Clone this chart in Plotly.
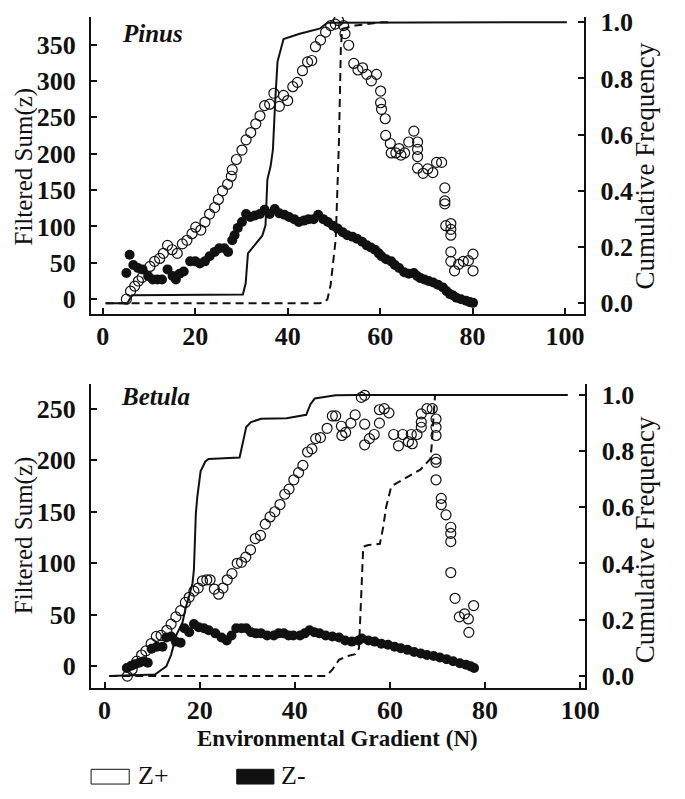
import plotly.graph_objects as go

# ---- Pinus (top panel) ----
pinus_pos_x = [5.1, 6.0, 6.9, 7.7, 8.5, 10.2, 11.2, 12.3, 13.1, 14.0, 15.0, 16.1, 17.2, 18.2, 19.3,
               20.1, 21.2, 22.1, 23.1, 24.2, 25.0, 25.9, 27.0, 27.8, 28.0, 28.9, 30.1, 31.0, 32.0,
               33.1, 34.0, 35.0, 36.1, 37.0, 38.2, 39.1, 40.0, 41.1, 42.1, 43.2, 44.3, 45.2, 46.0,
               47.1, 48.2, 49.3, 50.3, 51.0, 52.1, 52.4, 53.2, 54.3, 55.2, 56.2, 57.1, 58.1, 59.2,
               60.1, 60.1, 60.3, 61.1, 61.2, 62.2, 62.4, 63.4, 64.1, 64.5, 65.3, 66.2, 67.3, 68.1,
               68.1, 68.1, 68.1, 69.3, 70.3, 71.4, 72.2, 73.3, 74.0, 74.0, 74.0, 74.2, 75.3, 75.3,
               75.3, 75.3, 75.3, 76.1, 77.0, 78.0, 79.1, 80.1, 80.1]
pinus_pos_y = [0, 11, 18, 25, 30, 45, 52, 56, 63, 74, 68, 63, 76, 81, 90,
               99, 95, 106, 117, 126, 137, 149, 158, 169, 178, 192, 205, 219, 229,
               241, 252, 266, 268, 283, 265, 280, 273, 292, 298, 314, 326, 328, 347,
               356, 367, 376, 378, 383, 376, 365, 349, 324, 315, 318, 309, 300, 309,
               286, 270, 261, 248, 225, 214, 201, 201, 207, 198, 201, 216, 231, 216,
               206, 196, 180, 173, 179, 174, 188, 188, 153, 135, 131, 101, 104, 96,
               88, 65, 52, 39, 48, 52, 53, 62, 39]

pinus_neg_x = [5.1, 5.8, 6.6, 7.6, 8.6, 9.8, 10.8, 11.8, 12.8, 14.0, 15.1, 15.8, 16.6, 17.5, 18.9,
               20.0, 21.0, 22.1, 23.1, 24.2, 25.2, 26.3, 27.1, 28.0, 28.5, 29.2, 30.1, 31.0, 31.9,
               32.9, 34.0, 35.0, 36.1, 37.2, 38.2, 39.3, 40.3, 41.4, 42.4, 43.5, 44.5, 45.6, 46.6,
               47.7, 48.7, 49.8, 50.8, 51.9, 52.9, 54.0, 55.0, 56.1, 57.1, 58.0, 58.9, 59.7, 60.3,
               61.3, 62.4, 63.2, 64.1, 65.2, 66.2, 67.3, 68.0, 68.7, 69.6, 70.5, 71.5, 72.5, 73.6,
               74.4, 75.1, 75.8, 76.5, 77.5, 78.6, 79.4, 80.1]
pinus_neg_y = [36, 61, 47, 43, 41, 32, 27, 27, 27, 41, 32, 27, 35, 38, 52,
               52, 49, 52, 59, 65, 70, 70, 65, 81, 88, 98, 106, 117, 113,
               115, 117, 123, 117, 124, 118, 116, 113, 110, 106, 108, 110, 110, 116,
               110, 106, 101, 97, 92, 88, 86, 83, 79, 74, 71, 68, 63, 59,
               55, 52, 47, 43, 37, 35, 36, 32, 29, 27, 25, 23, 20, 16,
               11, 7, 5, 2, 0, -2, -4, -5]

pinus_cum_solid_x = [0.6, 5.3, 6.3, 30.3, 30.9, 31.4, 32.8, 34.5, 35.2, 35.6, 36.3, 36.8, 37.3,
                     37.8, 39.1, 42.6, 46.9, 48.6, 100.4]
pinus_cum_solid_y = [0.0, 0.0, 0.028, 0.031, 0.07, 0.177, 0.206, 0.24, 0.277, 0.44, 0.487, 0.546,
                     0.72, 0.86, 0.94, 0.959, 0.977, 0.998, 1.0]

pinus_cum_dash_x = [0.6, 46.9, 48.0, 48.6, 49.3, 50.4, 51.1, 51.5, 51.8, 54.6, 60.3, 62.0]
pinus_cum_dash_y = [0.0, 0.0, 0.004, 0.014, 0.066, 0.23, 0.58, 0.91, 0.977, 0.988, 1.0, 1.0]

# ---- Betula (bottom panel) ----
betula_pos_x = [4.8, 5.8, 6.8, 7.8, 8.7, 9.8, 10.9, 11.9, 13.1, 14.0, 15.0, 16.0, 17.0, 17.8, 18.8,
                19.7, 20.6, 21.5, 22.2, 23.1, 24.0, 24.9, 25.8, 26.8, 27.9, 28.8, 29.7, 30.7, 31.7,
                32.8, 33.8, 34.8, 35.8, 36.9, 37.9, 38.8, 39.8, 40.8, 41.7, 42.7, 43.6, 44.4, 45.4,
                46.8, 47.9, 48.6, 49.8, 49.9, 50.7, 51.8, 52.7, 54.0, 54.7, 54.7, 54.7, 55.7, 56.7,
                57.8, 57.8, 58.8, 59.8, 60.8, 61.8, 62.7, 63.9, 64.5, 64.7, 65.7, 66.6, 66.6, 66.6,
                67.8, 68.9, 69.7, 69.7, 69.7, 69.7, 69.7, 69.7, 70.8, 70.8, 71.8, 72.8, 72.8, 72.8,
                72.8, 73.7, 74.6, 75.7, 76.5, 77.6, 76.6]
betula_pos_y = [-9.5, -3, 5, 11, 15, 22, 29, 30, 35, 41, 48, 54, 62, 67, 73,
                76, 83, 84, 84, 75, 70, 76, 84, 90, 100, 101, 106, 113, 124,
                127, 138, 145, 150, 157, 167, 172, 181, 188, 195, 208, 211, 221, 222,
                231, 243, 243, 233, 224, 227, 236, 244, 261, 263, 235, 215, 221, 225,
                236, 249, 250, 246, 225, 214, 225, 218, 225, 216, 225, 232, 237, 245,
                250, 250, 240, 232, 224, 201, 198, 181, 163, 157, 147, 135, 129, 121,
                91, 66, 48, 51, 46, 59, 33]

betula_neg_x = [4.7, 5.6, 6.4, 7.3, 8.3, 9.1, 9.9, 11.0, 12.2, 13.0, 14.0, 15.0, 16.0, 16.8, 17.8,
                18.8, 19.8, 20.9, 21.9, 23.3, 24.6, 25.7, 26.7, 27.7, 28.8, 29.8, 30.8, 31.8, 32.9,
                34.2, 35.6, 36.6, 37.7, 38.7, 39.7, 41.1, 42.1, 43.1, 44.1, 45.2, 46.5, 47.9, 49.3,
                50.6, 52.0, 53.4, 54.1, 55.5, 56.8, 58.2, 59.6, 61.0, 62.3, 63.7, 65.1, 66.5, 67.8,
                69.2, 70.5, 71.9, 73.3, 74.7, 76.0, 77.0, 77.7]
betula_neg_y = [-1.6, 0.6, 2, 3.5, 5, 3.5, 17, 19, 19, 28, 29, 24, 23, 37, 33,
                41, 38, 37, 35, 32, 28, 25, 30, 37, 37, 37, 33, 32, 32,
                30, 30, 32, 32, 30, 30, 30, 32, 35, 33, 32, 30, 29, 28,
                25, 24, 25, 27, 25, 24, 22, 21, 19, 17.5, 16, 14, 12.5, 11,
                10, 8.6, 7, 5, 3, 1.5, 0, -1.6]

betula_cum_solid_x = [1.0, 10.6, 12.0, 13.0, 14.0, 15.1, 16.4, 17.1, 17.8, 18.5, 18.8, 19.2, 19.5,
                      20.2, 21.2, 21.9, 28.4, 29.1, 29.8, 30.8, 32.9, 38.3, 42.4, 43.3, 44.2, 48.6,
                      53.4, 97.4]
betula_cum_solid_y = [0.0, 0.005, 0.022, 0.034, 0.075, 0.145, 0.19, 0.244, 0.285, 0.33, 0.378, 0.576,
                      0.635, 0.728, 0.763, 0.772, 0.777, 0.833, 0.886, 0.903, 0.915, 0.917, 0.929,
                      0.967, 0.987, 0.999, 1.0, 1.0]

betula_cum_dash_x = [1.0, 46.6, 47.9, 49.3, 51.0, 52.7, 53.5, 53.8, 54.4, 55.5, 57.9, 58.6, 59.2,
                     60.3, 63.0, 66.4, 68.5, 68.8, 69.2, 69.5, 72.0]
betula_cum_dash_y = [0.0, 0.0, 0.022, 0.057, 0.07, 0.077, 0.098, 0.238, 0.46, 0.466, 0.47, 0.53, 0.6,
                     0.675, 0.70, 0.734, 0.772, 0.82, 0.93, 1.0, 1.0]

x_ticks = [0, 20, 40, 60, 80, 100]
cum_ticks = [0.0, 0.2, 0.4, 0.6, 0.8, 1.0]
pinus_sum_ticks = [0, 50, 100, 150, 200, 250, 300, 350]
betula_sum_ticks = [0, 50, 100, 150, 200, 250]

FONT = "Liberation Serif"
INK = "#111111"
# the page body keeps an 8px margin all round; keep the figure inside it so nothing scrolls
OFF = 8
W, H = 685 - 2 * OFF, 799 - 2 * OFF


def px_x(p):
    return (p - OFF) / W


def px_y(p):
    return 1 - (p - OFF) / H


def add_panel(fig, xa, ycum, ysum, cum_solid, cum_dash, pos, neg):
    fig.add_trace(go.Scatter(x=cum_solid[0], y=cum_solid[1], mode="lines",
                             line=dict(color=INK, width=2), xaxis=xa, yaxis=ycum))
    fig.add_trace(go.Scatter(x=cum_dash[0], y=cum_dash[1], mode="lines",
                             line=dict(color=INK, width=2, dash="8px,5px"), xaxis=xa, yaxis=ycum))
    fig.add_trace(go.Scatter(x=neg[0], y=neg[1], mode="markers",
                             marker=dict(symbol="circle", size=10, color=INK),
                             xaxis=xa, yaxis=ysum))
    fig.add_trace(go.Scatter(x=pos[0], y=pos[1], mode="markers",
                             marker=dict(symbol="circle-open", size=10, color=INK,
                                         line=dict(width=1.2)),
                             xaxis=xa, yaxis=ysum))


fig = go.Figure()
add_panel(fig, "x", "y", "y2",
          (pinus_cum_solid_x, pinus_cum_solid_y), (pinus_cum_dash_x, pinus_cum_dash_y),
          (pinus_pos_x, pinus_pos_y), (pinus_neg_x, pinus_neg_y))
add_panel(fig, "x2", "y3", "y4",
          (betula_cum_solid_x, betula_cum_solid_y), (betula_cum_dash_x, betula_cum_dash_y),
          (betula_pos_x, betula_pos_y), (betula_neg_x, betula_neg_y))

tick_font = dict(family=FONT, size=26, color=INK, weight="bold")
common = dict(showgrid=False, zeroline=False, showline=True, linecolor=INK, linewidth=1.5,
              ticks="inside", ticklen=6, tickwidth=1.5, tickcolor=INK, tickfont=tick_font,
              ticklabeloverflow="allow")

fig.update_layout(
    width=W, height=H,
    margin=dict(l=0, r=0, t=0, b=0),
    paper_bgcolor="white", plot_bgcolor="white",
    showlegend=False,
    xaxis=dict(domain=[px_x(92.7), px_x(596.7)], anchor="y", range=[-2.6, 104],
               tickvals=x_ticks, ticklabelstandoff=-2, **common),
    yaxis=dict(domain=[px_y(310), 1.0], anchor="x", side="right", range=[-0.0385, 1.0186],
               tickvals=cum_ticks, tickformat=".1f", ticklabelstandoff=10, **common),
    yaxis2=dict(overlaying="y", anchor="x", side="left", range=[-20.3, 387.8],
                tickvals=pinus_sum_ticks, ticklabelstandoff=8, **common),
    xaxis2=dict(domain=[px_x(92.7), px_x(598)], anchor="y3", range=[-2.88, 100.97],
                tickvals=x_ticks, ticklabelstandoff=-2, **common),
    yaxis3=dict(domain=[px_y(690), px_y(381.7)], anchor="x2", side="right", range=[-0.042, 1.037],
                tickvals=cum_ticks, tickformat=".1f", ticklabelstandoff=10, **common),
    yaxis4=dict(overlaying="y3", anchor="x2", side="left", range=[-20.7, 273.5],
                tickvals=betula_sum_ticks, ticklabelstandoff=8, **common),
)

annots = [
    dict(text="<b><i>Pinus</i></b>", x=px_x(123), y=px_y(25), xanchor="left", size=25),
    dict(text="<b><i>Betula</i></b>", x=px_x(122), y=px_y(394), xanchor="left", size=25),
    dict(text="Filtered Sum(z)", x=0.0, y=px_y(160), xanchor="left", textangle=-90, size=25),
    dict(text="Filtered Sum(z)", x=0.0, y=px_y(535), xanchor="left", textangle=-90, size=25),
    dict(text="Cumulative Frequency", x=1.0, y=px_y(160), xanchor="right", textangle=-90, size=27),
    dict(text="Cumulative Frequency", x=1.0, y=px_y(540), xanchor="right", textangle=-90, size=27),
    dict(text="<b>Environmental Gradient (N)</b>", x=px_x(345), y=px_y(742), size=23),
    dict(text="Z+", x=px_x(139), y=px_y(779), xanchor="left", size=26),
    dict(text="Z-", x=px_x(285), y=px_y(779), xanchor="left", size=26),
]
for a in annots:
    fig.add_annotation(text=a["text"], x=a["x"], y=a["y"], xref="paper", yref="paper",
                       xanchor=a.get("xanchor", "center"), yanchor="middle",
                       textangle=a.get("textangle", 0), showarrow=False,
                       font=dict(family=FONT, size=a["size"], color=INK))

# legend swatches
fig.add_shape(type="rect", xref="paper", yref="paper",
              x0=px_x(93), x1=px_x(132), y0=px_y(788), y1=px_y(773),
              line=dict(color=INK, width=1), fillcolor="white")
fig.add_shape(type="rect", xref="paper", yref="paper",
              x0=px_x(242), x1=px_x(280), y0=px_y(788), y1=px_y(773),
              line=dict(color=INK, width=1), fillcolor=INK)

fig.write_html("out.html")
